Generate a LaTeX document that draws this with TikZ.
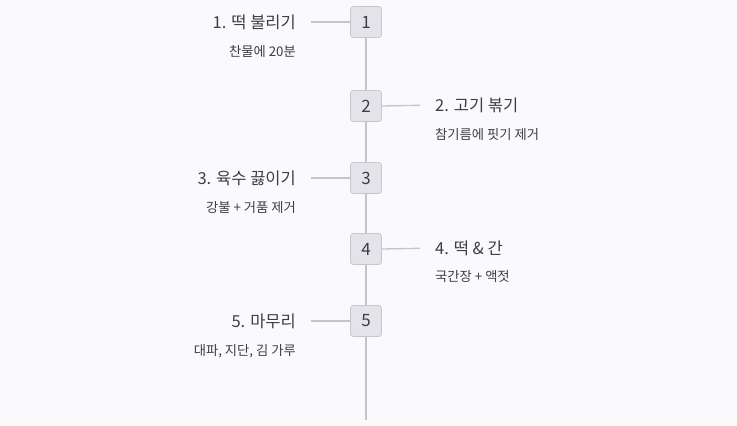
\documentclass[tikz,border=0pt]{standalone}
\usepackage{fontspec}
\setmainfont{Noto Sans CJK KR}
\usetikzlibrary{positioning}

\definecolor{bgcol}{HTML}{FAFAFC}
\definecolor{boxfill}{HTML}{E3E3E9}
\definecolor{boxline}{HTML}{C6C6CE}
\definecolor{linecol}{HTML}{C4C4CA}
\definecolor{textcol}{HTML}{3E3E42}

\begin{document}
\begin{tikzpicture}[
    x=1pt, y=-1pt,
    every node/.style={text=textcol},
    stepbox/.style={draw=boxline, fill=boxfill, rounded corners=3pt, line width=0.8pt,
        minimum width=31pt, minimum height=31pt, inner sep=0pt, font=\fontsize{17}{17}\selectfont},
    title/.style={inner sep=0pt, font=\fontsize{16.5}{16.5}\selectfont},
    note/.style={inner sep=0pt, font=\fontsize{13.3}{13.3}\selectfont},
    conn/.style={draw=linecol, line width=1.3pt},
    side/.style={conn, shorten >=15pt}
]

% Background and bounding box
\fill[bgcol] (0,0) rectangle (737,426);
\useasboundingbox (0,0) rectangle (737,426);

% Step boxes
\node[stepbox] (b1) at (366,22) {1};
\node[stepbox] (b2) at (366,106) {2};
\node[stepbox] (b3) at (366,178) {3};
\node[stepbox] (b4) at (366,249) {4};
\node[stepbox] (b5) at (366,321) {5};
\coordinate (end) at (366,420);

% Step titles and notes
\node[title, anchor=east] (t1) at (296,22) {1. 떡 불리기};
\node[note, anchor=east] (n1) at (296,52) {찬물에 20분};

\node[title, anchor=west] (t2) at (435,105) {2. 고기 볶기};
\node[note, anchor=west] (n2) at (435,134) {참기름에 핏기 제거};

\node[title, anchor=east] (t3) at (296,178) {3. 육수 끓이기};
\node[note, anchor=east] (n3) at (296,208) {강불 + 거품 제거};

\node[title, anchor=west] (t4) at (435,248) {4. 떡 \& 간};
\node[note, anchor=west] (n4) at (435,277) {국간장 + 액젓};

\node[title, anchor=east] (t5) at (296,321) {5. 마무리};
\node[note, anchor=east] (n5) at (296,351) {대파, 지단, 김 가루};

% Timeline
\draw[conn] (b1) -- (b2);
\draw[conn] (b2) -- (b3);
\draw[conn] (b3) -- (b4);
\draw[conn] (b4) -- (b5);
\draw[conn] (b5) -- (end);

% Side connectors
\draw[side] (b1.west) -- (t1.east);
\draw[side] (b2.east) -- (t2.west);
\draw[side] (b3.west) -- (t3.east);
\draw[side] (b4.east) -- (t4.west);
\draw[side] (b5.west) -- (t5.east);

\end{tikzpicture}
\end{document}
